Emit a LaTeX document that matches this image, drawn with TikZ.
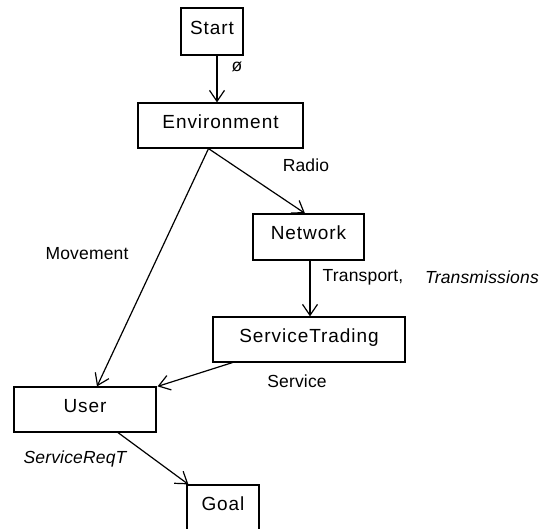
\documentclass[tikz,border=0pt]{standalone}
\usepackage{fontspec}
\setmainfont{Liberation Sans}
\usetikzlibrary{arrows.meta}
\newfontfamily\boxfont[LetterSpace=5]{Liberation Sans}
\newfontfamily\lblfont[LetterSpace=1]{Liberation Sans}
\newfontfamily\lblit[LetterSpace=1]{Liberation Sans Italic}
\tikzset{
  box/.style={draw, line width=1.2pt, inner sep=0pt, font=\boxfont\fontsize{19}{21}\selectfont,
    text height=12pt, text depth=6pt},
  lbl/.style={inner sep=0pt, font=\lblfont\fontsize{17.5}{20}\selectfont},
  lblit/.style={inner sep=0pt, font=\lblit\fontsize{17.5}{20}\selectfont},
  flow/.style={line width=1.2pt, -{Straight Barb[length=11pt,width=15pt,line width=1.2pt]}},
}
\begin{document}
\begin{tikzpicture}[x=1pt,y=-1pt]
\useasboundingbox (0,0) rectangle (550,529);
% boxes
\node[box, minimum width=62pt, minimum height=47pt] (start) at (212,31.5) {Start};
\node[box, minimum width=165pt, minimum height=45pt] (env) at (220.5,125.5) {Environment};
\node[box, minimum width=111pt, minimum height=46pt] (net) at (308.5,237) {Network};
\node[box, minimum width=192pt, minimum height=45pt] (st) at (309,339.5) {ServiceTrading};
\node[box, minimum width=142pt, minimum height=45pt] (user) at (85,409.5) {User};
\node[box, minimum width=72pt, minimum height=46pt] (goal) at (223,508) {Goal};
% edge labels
\node[lbl] (l0) at (237,67) {ø};
\node[lbl] (lradio) at (306,165) {Radio};
\node[lbl] (ltrans) at (363,277) {Transport,};
\node[lblit] (ltx) at (482,277) {Transmissions};
\node[lbl] (lmove) at (87,254) {Movement};
\node[lbl] (lserv) at (297,381) {Service};
\node[lblit] (lreq) at (75,459) {ServiceReqT};
% connectors
\draw[flow] ([xshift=5pt]start.south) -- ([xshift=-3.5pt]env.north);
\draw[flow] ([xshift=-12pt]env.south) -- ([xshift=12pt]user.north);
\draw[flow] ([xshift=-12pt]env.south) -- ([xshift=-3.5pt]net.north);
\draw[flow] ([xshift=1.5pt]net.south) -- ([xshift=1pt]st.north);
\draw[flow] ([xshift=20pt]st.south west) -- ([xshift=1pt]user.north east);
\draw[flow] ([xshift=33pt]user.south) -- ([xshift=2pt]goal.north west);
\end{tikzpicture}
\end{document}
